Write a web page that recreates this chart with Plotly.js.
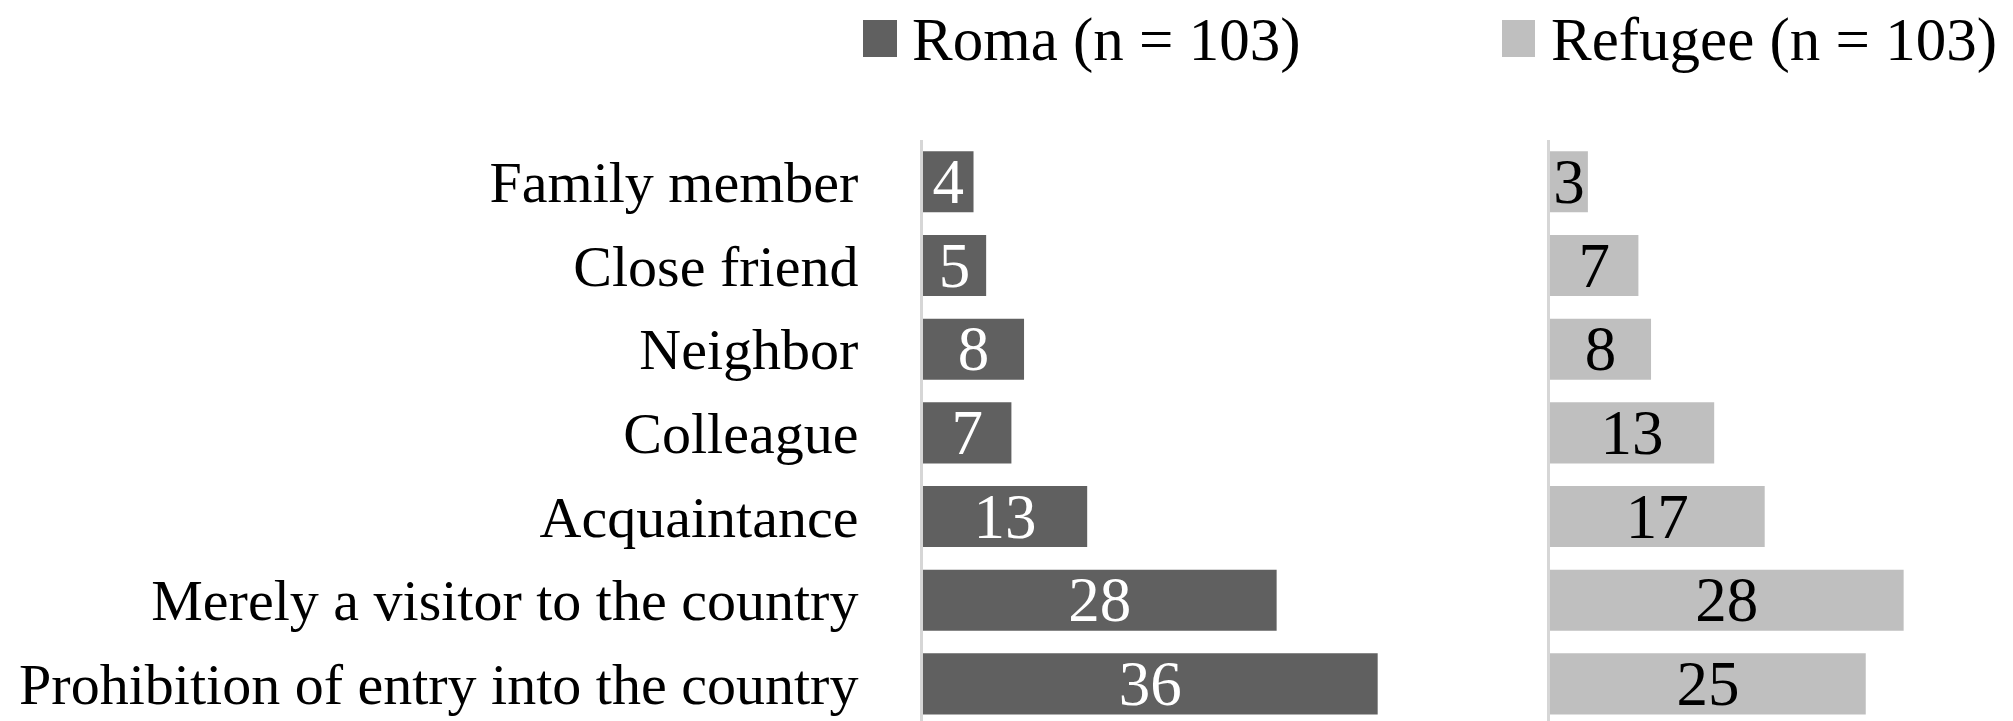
<!DOCTYPE html>
<html>
<head>
<meta charset="utf-8">
<script src="https://cdn.plot.ly/plotly-3.0.1.min.js"></script>
<style>
  html, body { margin: 0; padding: 0; background: #ffffff; }
  #chart { width: 2013px; height: 721px; }
</style>
</head>
<body>
<div id="chart"></div>
<script>
// ---- Data ----
const categories = [
  "Family member",
  "Close friend",
  "Neighbor",
  "Colleague",
  "Acquaintance",
  "Merely a visitor to the country",
  "Prohibition of entry into the country"
];
const romaValues = [4, 5, 8, 7, 13, 28, 36];
const refugeeValues = [3, 7, 8, 13, 17, 28, 25];
const seriesNames = ["Roma (n = 103)", "Refugee (n = 103)"];

// ---- Styling ----
const W = 2013, H = 721;
const TOP = 140;
const FONT = "Liberation Serif, Times New Roman, serif";
const romaColor = "#606060";
const refugeeColor = "#bfbfbf";
const pxPerUnit = 12.63;

const romaStart = 923, romaEnd = 1480;
const refStart = 1550, refEnd = 2013;
const plotH = H - TOP;
const px2paperY = p => (H - p) / plotH;

function barTrace(name, values, xa, ya, color, textColor) {
  return {
    type: "bar", orientation: "h",
    name: name,
    y: categories, x: values,
    xaxis: xa, yaxis: ya,
    marker: { color: color },
    texttemplate: "%{x}",
    textposition: "inside",
    insidetextanchor: "middle",
    constraintext: "none",
    textangle: 0,
    textfont: { family: FONT, size: 63, color: textColor },
    hoverinfo: "x+y"
  };
}

const traces = [
  barTrace(seriesNames[0], romaValues, "x", "y", romaColor, "#ffffff"),
  barTrace(seriesNames[1], refugeeValues, "x2", "y2", refugeeColor, "#000000")
];

const commonY = {
  type: "category",
  categoryorder: "array",
  categoryarray: categories,
  range: [6.444, -0.5],
  showgrid: false,
  zeroline: false,
  showline: true,
  linecolor: "#d6d6d6",
  linewidth: 3,
  ticks: "",
  fixedrange: true
};

const layout = {
  width: W, height: H,
  margin: { l: 0, r: 0, t: TOP, b: 0, pad: 0 },
  paper_bgcolor: "#ffffff",
  plot_bgcolor: "#ffffff",
  showlegend: false,
  bargap: 0.27,
  font: { family: FONT, color: "#000000" },
  xaxis: {
    domain: [romaStart / W, romaEnd / W],
    range: [0, (romaEnd - romaStart) / pxPerUnit],
    visible: false, anchor: "y"
  },
  xaxis2: {
    domain: [refStart / W, refEnd / W],
    range: [0, (refEnd - refStart) / pxPerUnit],
    visible: false, anchor: "y2"
  },
  yaxis: Object.assign({}, commonY, {
    anchor: "x",
    showticklabels: true,
    tickfont: { family: FONT, size: 58, color: "#000000" },
    ticklabelstandoff: 50
  }),
  yaxis2: Object.assign({}, commonY, {
    anchor: "x2",
    showticklabels: false
  })
};

// Legend keys (large squares) and legend texts
const legendItems = [
  { name: seriesNames[0], color: romaColor, sq: [863, 897], textX: 910 },
  { name: seriesNames[1], color: refugeeColor, sq: [1502, 1535], textX: 1549 }
];
layout.shapes = legendItems.map(it => ({
  type: "rect", xref: "paper", yref: "paper",
  x0: it.sq[0] / W, x1: it.sq[1] / W,
  y0: px2paperY(57), y1: px2paperY(20),
  fillcolor: it.color, line: { width: 0 }
}));
layout.annotations = legendItems.map(it => ({
  xref: "paper", yref: "paper",
  x: it.textX / W, y: px2paperY(40),
  xanchor: "left", yanchor: "middle",
  text: it.name, showarrow: false,
  font: { family: FONT, size: 61, color: "#000000" }
}));

Plotly.newPlot("chart", traces, layout, { staticPlot: true, displayModeBar: false });
</script>
</body>
</html>
